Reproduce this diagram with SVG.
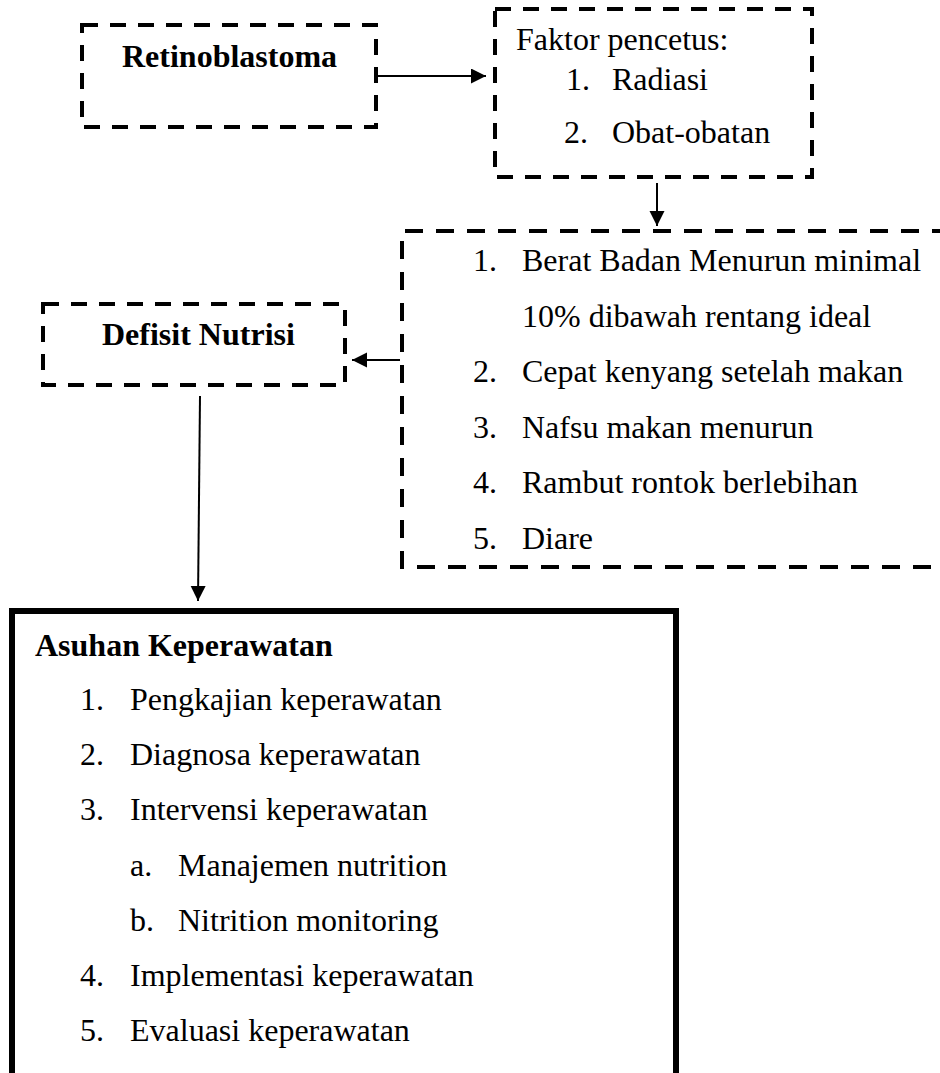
<svg xmlns="http://www.w3.org/2000/svg" width="940" height="1073" viewBox="0 0 940 1073">
<style>
.t{font-family:"Liberation Serif","Times New Roman",serif;font-size:32px;fill:#000}
.b{font-weight:bold}
.dash{fill:none;stroke:#000;stroke-width:4;stroke-dasharray:16 12}
.dash2{fill:none;stroke:#000;stroke-width:4;stroke-dasharray:18 13}
.solid{fill:none;stroke:#000;stroke-width:6}
.conn{fill:none;stroke:#000;stroke-width:2;marker-end:url(#arr)}
</style>
<defs>
<marker id="arr" markerUnits="userSpaceOnUse" markerWidth="16" markerHeight="16" refX="15" refY="7.5" orient="auto">
<path d="M0,0 L15,7.5 L0,15 z" fill="#000"/>
</marker>
</defs>
<rect width="940" height="1073" fill="#fff"/>
<g id="connectors">
<line class="conn" x1="376" y1="76" x2="486" y2="76"/>
<line class="conn" x1="657" y1="183" x2="657" y2="226"/>
<line class="conn" x1="400" y1="360" x2="352" y2="360"/>
<line class="conn" x1="200" y1="396" x2="198" y2="601"/>
</g>
<g id="retinoblastoma">
<rect class="dash" x="82" y="25" width="294" height="102"/>
<text class="t b" x="122" y="67">Retinoblastoma</text>
</g>
<g id="faktor">
<rect class="dash" x="495" y="9" width="317" height="168"/>
<text class="t" x="516" y="50">Faktor pencetus:</text>
<text class="t" x="566" y="90">1.</text>
<text class="t" x="612" y="90">Radiasi</text>
<text class="t" x="564" y="143">2.</text>
<text class="t" x="612" y="143">Obat-obatan</text>
</g>
<g id="gejala">
<path class="dash2" d="M950,231 L402,231 L402,567 L950,567"/>
<text class="t" x="473" y="271">1.</text>
<text class="t" x="522" y="271">Berat Badan Menurun minimal</text>
<text class="t" x="522" y="327">10% dibawah rentang ideal</text>
<text class="t" x="473" y="382">2.</text>
<text class="t" x="522" y="382">Cepat kenyang setelah makan</text>
<text class="t" x="473" y="438">3.</text>
<text class="t" x="522" y="438">Nafsu makan menurun</text>
<text class="t" x="473" y="493">4.</text>
<text class="t" x="522" y="493">Rambut rontok berlebihan</text>
<text class="t" x="473" y="549">5.</text>
<text class="t" x="522" y="549">Diare</text>
</g>
<g id="defisit">
<rect class="dash" x="43" y="304" width="302" height="81"/>
<text class="t b" x="102" y="345">Defisit Nutrisi</text>
</g>
<g id="asuhan">
<path class="solid" d="M12,1080 L12,611 L676,611 L676,1080"/>
<text class="t b" x="35" y="656">Asuhan Keperawatan</text>
<text class="t" x="80" y="710">1.</text>
<text class="t" x="130" y="710">Pengkajian keperawatan</text>
<text class="t" x="80" y="765">2.</text>
<text class="t" x="130" y="765">Diagnosa keperawatan</text>
<text class="t" x="80" y="820">3.</text>
<text class="t" x="130" y="820">Intervensi keperawatan</text>
<text class="t" x="130" y="876">a.</text>
<text class="t" x="178" y="876">Manajemen nutrition</text>
<text class="t" x="130" y="931">b.</text>
<text class="t" x="178" y="931">Nitrition monitoring</text>
<text class="t" x="80" y="986">4.</text>
<text class="t" x="130" y="986">Implementasi keperawatan</text>
<text class="t" x="80" y="1041">5.</text>
<text class="t" x="130" y="1041">Evaluasi keperawatan</text>
</g>
</svg>
